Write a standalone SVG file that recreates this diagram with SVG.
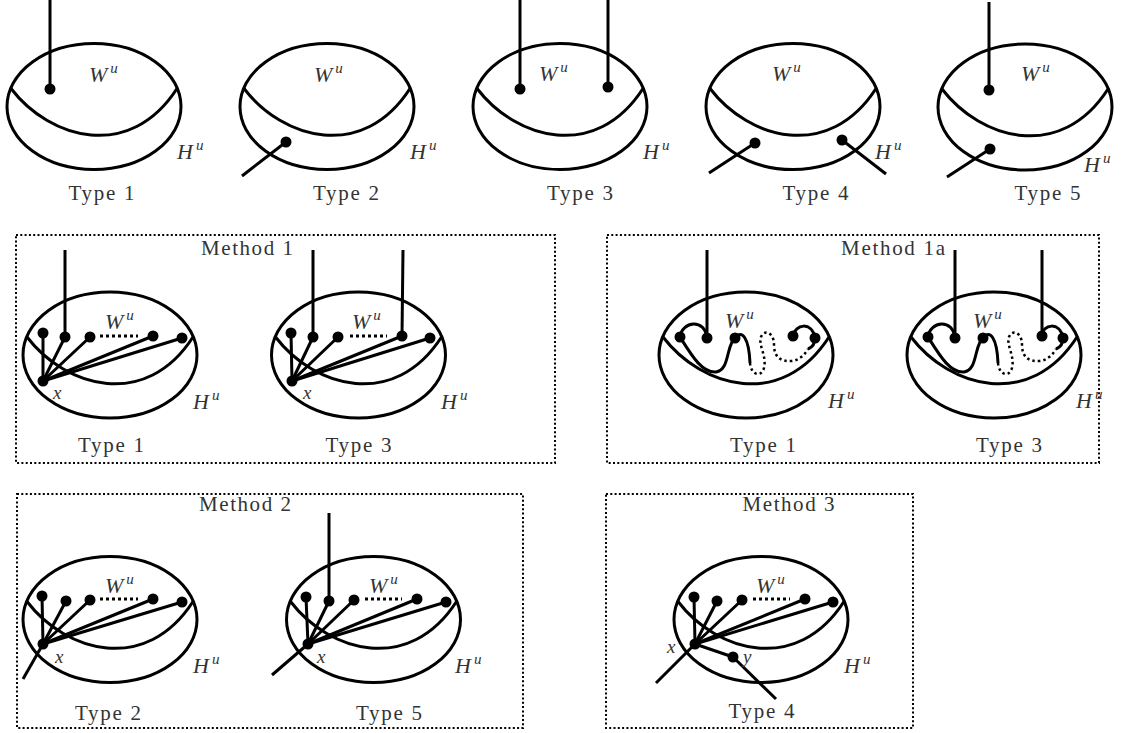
<svg xmlns="http://www.w3.org/2000/svg" xmlns:xlink="http://www.w3.org/1999/xlink" width="1123" height="733" viewBox="0 0 1123 733">
<style>
.s{fill:none;stroke:#000;stroke-width:3}
.e{stroke:#000;stroke-width:3;fill:none}
.dt{stroke:#000;stroke-width:3;fill:none;stroke-dasharray:3 3}
.dc{stroke:#000;stroke-width:2.5;fill:none;stroke-dasharray:2.5 3}
.box{fill:none;stroke:#000;stroke-width:2;stroke-dasharray:2 2.3}
.m{font-family:"Liberation Serif",serif;font-size:21px;fill:#333}
.i{font-family:"Liberation Serif",serif;font-style:italic;font-size:22px;fill:#333}
.sx{font-family:"Liberation Serif",serif;font-style:italic;font-size:19px;fill:#333}
.sup{font-size:15px}
circle{r:5.5}
</style>
<defs>
<g id="blob"><ellipse class="s" cx="0" cy="0" rx="87" ry="63"/><path class="s" d="M-83,-18 C-44,33 36,55 83,-18"/></g>
</defs>
<rect width="1123" height="733" fill="#fff"/>

<!-- Top row -->
<g id="top-type1">
<use xlink:href="#blob" href="#blob" transform="translate(94,106.5)"/>
<g class="edges"><line class="e" x1="50" y1="0" x2="50" y2="89"/></g>
<circle cx="50" cy="89" r="5.5"/>
<text class="i" x="89" y="82">W<tspan class="sup" dx="3" dy="-9">u</tspan></text>
<text class="i" x="177" y="159">H<tspan class="sup" dx="3" dy="-9">u</tspan></text>
<text class="m" x="101.5" y="200" text-anchor="middle" textLength="66">Type 1</text>
</g>
<g id="top-type2">
<use xlink:href="#blob" href="#blob" transform="translate(327,106.5)"/>
<g class="edges"><line class="e" x1="286" y1="142" x2="242" y2="176"/></g>
<circle cx="286" cy="142" r="5.5"/>
<text class="i" x="314" y="82">W<tspan class="sup" dx="3" dy="-9">u</tspan></text>
<text class="i" x="410" y="159">H<tspan class="sup" dx="3" dy="-9">u</tspan></text>
<text class="m" x="346" y="200" text-anchor="middle" textLength="66">Type 2</text>
</g>
<g id="top-type3">
<use xlink:href="#blob" href="#blob" transform="translate(560,106.5)"/>
<g class="edges"><line class="e" x1="520" y1="0" x2="520" y2="89"/><line class="e" x1="608" y1="0" x2="608" y2="87"/></g>
<circle cx="520" cy="89" r="5.5"/><circle cx="608" cy="87" r="5.5"/>
<text class="i" x="539" y="81">W<tspan class="sup" dx="3" dy="-9">u</tspan></text>
<text class="i" x="643" y="159">H<tspan class="sup" dx="3" dy="-9">u</tspan></text>
<text class="m" x="580" y="200" text-anchor="middle" textLength="66">Type 3</text>
</g>
<g id="top-type4">
<use xlink:href="#blob" href="#blob" transform="translate(793,106.5)"/>
<g class="edges"><line class="e" x1="755" y1="143" x2="709" y2="173"/><line class="e" x1="842" y1="140" x2="886" y2="174"/></g>
<circle cx="755" cy="143" r="5.5"/><circle cx="842" cy="140" r="5.5"/>
<text class="i" x="772" y="81">W<tspan class="sup" dx="3" dy="-9">u</tspan></text>
<text class="i" x="875" y="159">H<tspan class="sup" dx="3" dy="-9">u</tspan></text>
<text class="m" x="815.5" y="200" text-anchor="middle" textLength="66">Type 4</text>
</g>
<g id="top-type5">
<use xlink:href="#blob" href="#blob" transform="translate(1025,107)"/>
<g class="edges"><line class="e" x1="989" y1="2" x2="989" y2="90"/><line class="e" x1="990" y1="149" x2="947" y2="177"/></g>
<circle cx="989" cy="90" r="5.5"/><circle cx="990" cy="149" r="5.5"/>
<text class="i" x="1021" y="81">W<tspan class="sup" dx="3" dy="-9">u</tspan></text>
<text class="i" x="1084" y="172">H<tspan class="sup" dx="3" dy="-9">u</tspan></text>
<text class="m" x="1047.5" y="200" text-anchor="middle" textLength="66">Type 5</text>
</g>

<!-- Method 1 -->
<g id="method1">
<rect class="box" x="16" y="235" width="539" height="228"/>
<text class="m" x="247" y="255" text-anchor="middle" textLength="92">Method 1</text>
</g>
<g id="m1-type1">
<use xlink:href="#blob" href="#blob" transform="translate(110,355)"/>
<g class="edges">
<line class="e" x1="65" y1="250" x2="65" y2="337"/>
<line class="e" x1="43" y1="381" x2="43" y2="333"/>
<line class="e" x1="43" y1="381" x2="65" y2="337"/>
<line class="e" x1="43" y1="381" x2="90" y2="337"/>
<line class="e" x1="43" y1="381" x2="153" y2="336"/>
<line class="e" x1="43" y1="381" x2="182" y2="338"/>
<line class="dt" x1="100" y1="336" x2="138" y2="336"/>
</g>
<circle cx="43" cy="333" r="5.5"/><circle cx="65" cy="337" r="5.5"/><circle cx="90" cy="337" r="5.5"/><circle cx="153" cy="336" r="5.5"/><circle cx="182" cy="338" r="5.5"/><circle cx="43" cy="381" r="5.5"/>
<text class="i" x="105" y="329">W<tspan class="sup" dx="3" dy="-9">u</tspan></text>
<text class="sx" x="53" y="399">x</text>
<text class="i" x="193" y="409">H<tspan class="sup" dx="3" dy="-9">u</tspan></text>
<text class="m" x="111" y="452" text-anchor="middle" textLength="66">Type 1</text>
</g>
<g id="m1-type3">
<use xlink:href="#blob" href="#blob" transform="translate(358.5,355)"/>
<g class="edges">
<line class="e" x1="313" y1="250" x2="313" y2="337"/>
<line class="e" x1="403" y1="250" x2="402" y2="336"/>
<line class="e" x1="292" y1="381" x2="291" y2="333"/>
<line class="e" x1="292" y1="381" x2="313" y2="337"/>
<line class="e" x1="292" y1="381" x2="338" y2="337"/>
<line class="e" x1="292" y1="381" x2="402" y2="336"/>
<line class="e" x1="292" y1="381" x2="430" y2="338"/>
<line class="dt" x1="350" y1="336" x2="387" y2="336"/>
</g>
<circle cx="291" cy="333" r="5.5"/><circle cx="313" cy="337" r="5.5"/><circle cx="338" cy="337" r="5.5"/><circle cx="402" cy="336" r="5.5"/><circle cx="430" cy="338" r="5.5"/><circle cx="292" cy="381" r="5.5"/>
<text class="i" x="352" y="329">W<tspan class="sup" dx="3" dy="-9">u</tspan></text>
<text class="sx" x="303" y="399">x</text>
<text class="i" x="441" y="409">H<tspan class="sup" dx="3" dy="-9">u</tspan></text>
<text class="m" x="358.5" y="452" text-anchor="middle" textLength="66">Type 3</text>
</g>

<!-- Method 1a -->
<g id="method1a">
<rect class="box" x="607" y="235" width="492" height="228"/>
<text class="m" x="893" y="255" text-anchor="middle" textLength="104">Method 1a</text>
</g>
<g id="m1a-type1">
<use xlink:href="#blob" href="#blob" transform="translate(746,355)"/>
<g class="edges">
<line class="e" x1="707" y1="250" x2="707" y2="338"/>
<path class="e" d="M680,337 C682,321 705,318 707,338"/>
<path class="e" d="M680,337 C692,356 702,373 716,372 C730,370 726,345 735,338"/>
<path class="e" d="M735,338 C742,329 749,338 750,363"/>
<path class="dc" d="M750,363 C751,375 761,378 764,368 C767,356 758,345 761,337 C764,329 774,332 774,345 C774,357 781,362 792,361 C800,360 805,354 808,349"/>
<path class="e" d="M808,349 C813,347 815,343 815,338"/>
<path class="e" d="M793,336 C795,324 812,321 815,338"/>
</g>
<circle cx="680" cy="337" r="5.5"/><circle cx="707" cy="338" r="5.5"/><circle cx="735" cy="338" r="5.5"/><circle cx="793" cy="336" r="5.5"/><circle cx="815" cy="338" r="5.5"/>
<text class="i" x="725" y="328">W<tspan class="sup" dx="3" dy="-9">u</tspan></text>
<text class="i" x="828" y="408">H<tspan class="sup" dx="3" dy="-9">u</tspan></text>
<text class="m" x="763" y="452" text-anchor="middle" textLength="66">Type 1</text>
</g>
<g id="m1a-type3">
<use xlink:href="#blob" href="#blob" transform="translate(994,355)"/>
<g class="edges">
<line class="e" x1="955" y1="250" x2="955" y2="338"/>
<line class="e" x1="1042" y1="250" x2="1042" y2="336"/>
<g transform="translate(248,0)">
<path class="e" d="M680,337 C682,321 705,318 707,338"/>
<path class="e" d="M680,337 C692,356 702,373 716,372 C730,370 726,345 735,338"/>
<path class="e" d="M735,338 C742,329 749,338 750,363"/>
<path class="dc" d="M750,363 C751,375 761,378 764,368 C767,356 758,345 761,337 C764,329 774,332 774,345 C774,357 781,362 792,361 C800,360 805,354 808,349"/>
<path class="e" d="M808,349 C813,347 815,343 815,338"/>
<path class="e" d="M793,336 C795,324 812,321 815,338"/>
</g>
</g>
<circle cx="928" cy="337" r="5.5"/><circle cx="955" cy="338" r="5.5"/><circle cx="983" cy="338" r="5.5"/><circle cx="1042" cy="336" r="5.5"/><circle cx="1063" cy="338" r="5.5"/>
<text class="i" x="973" y="328">W<tspan class="sup" dx="3" dy="-9">u</tspan></text>
<text class="i" x="1076" y="408">H<tspan class="sup" dx="3" dy="-9">u</tspan></text>
<text class="m" x="1009" y="452" text-anchor="middle" textLength="66">Type 3</text>
</g>

<!-- Method 2 -->
<g id="method2">
<rect class="box" x="17" y="494" width="506" height="234"/>
<text class="m" x="245" y="511" text-anchor="middle" textLength="92">Method 2</text>
</g>
<g id="m2-type2">
<use xlink:href="#blob" href="#blob" transform="translate(110,619.5)"/>
<g class="edges">
<line class="e" x1="43" y1="644" x2="42" y2="596"/>
<line class="e" x1="43" y1="644" x2="66" y2="601"/>
<line class="e" x1="43" y1="644" x2="90" y2="600"/>
<line class="e" x1="43" y1="644" x2="153" y2="599"/>
<line class="e" x1="43" y1="644" x2="182" y2="602"/>
<line class="e" x1="43" y1="644" x2="23" y2="679"/>
<line class="dt" x1="100" y1="599" x2="138" y2="599"/>
</g>
<circle cx="42" cy="596" r="5.5"/><circle cx="66" cy="601" r="5.5"/><circle cx="90" cy="600" r="5.5"/><circle cx="153" cy="599" r="5.5"/><circle cx="182" cy="602" r="5.5"/><circle cx="43" cy="644" r="5.5"/>
<text class="i" x="105" y="593">W<tspan class="sup" dx="3" dy="-9">u</tspan></text>
<text class="sx" x="55" y="663">x</text>
<text class="i" x="193" y="673">H<tspan class="sup" dx="3" dy="-9">u</tspan></text>
<text class="m" x="108" y="720" text-anchor="middle" textLength="66">Type 2</text>
</g>
<g id="m2-type5">
<use xlink:href="#blob" href="#blob" transform="translate(373.5,619.5)"/>
<g class="edges">
<line class="e" x1="329" y1="513" x2="329" y2="601"/>
<line class="e" x1="308" y1="644" x2="306" y2="597"/>
<line class="e" x1="308" y1="644" x2="329" y2="601"/>
<line class="e" x1="308" y1="644" x2="354" y2="600"/>
<line class="e" x1="308" y1="644" x2="417" y2="599"/>
<line class="e" x1="308" y1="644" x2="446" y2="602"/>
<line class="e" x1="308" y1="644" x2="272" y2="675"/>
<line class="dt" x1="365" y1="599" x2="402" y2="599"/>
</g>
<circle cx="306" cy="597" r="5.5"/><circle cx="329" cy="601" r="5.5"/><circle cx="354" cy="600" r="5.5"/><circle cx="417" cy="599" r="5.5"/><circle cx="446" cy="602" r="5.5"/><circle cx="308" cy="644" r="5.5"/>
<text class="i" x="369" y="593">W<tspan class="sup" dx="3" dy="-9">u</tspan></text>
<text class="sx" x="317" y="663">x</text>
<text class="i" x="455" y="673">H<tspan class="sup" dx="3" dy="-9">u</tspan></text>
<text class="m" x="389" y="720" text-anchor="middle" textLength="66">Type 5</text>
</g>

<!-- Method 3 -->
<g id="method3">
<rect class="box" x="606" y="494" width="307" height="234"/>
<text class="m" x="788.5" y="511" text-anchor="middle" textLength="92">Method 3</text>
</g>
<g id="m3-type4">
<use xlink:href="#blob" href="#blob" transform="translate(761,619.5)"/>
<g class="edges">
<line class="e" x1="695" y1="644" x2="694" y2="597"/>
<line class="e" x1="695" y1="644" x2="717" y2="601"/>
<line class="e" x1="695" y1="644" x2="742" y2="600"/>
<line class="e" x1="695" y1="644" x2="805" y2="599"/>
<line class="e" x1="695" y1="644" x2="833" y2="602"/>
<line class="e" x1="695" y1="644" x2="656" y2="683"/>
<line class="e" x1="695" y1="644" x2="733" y2="657"/>
<line class="e" x1="733" y1="657" x2="776" y2="699"/>
<line class="dt" x1="753" y1="599" x2="790" y2="599"/>
</g>
<circle cx="694" cy="597" r="5.5"/><circle cx="717" cy="601" r="5.5"/><circle cx="742" cy="600" r="5.5"/><circle cx="805" cy="599" r="5.5"/><circle cx="833" cy="602" r="5.5"/><circle cx="695" cy="644" r="5.5"/><circle cx="733" cy="657" r="5.5"/>
<text class="i" x="756" y="593">W<tspan class="sup" dx="3" dy="-9">u</tspan></text>
<text class="sx" x="667" y="653">x</text>
<text class="sx" x="743" y="663">y</text>
<text class="i" x="844" y="673">H<tspan class="sup" dx="3" dy="-9">u</tspan></text>
<text class="m" x="761.5" y="718" text-anchor="middle" textLength="66">Type 4</text>
</g>
</svg>
